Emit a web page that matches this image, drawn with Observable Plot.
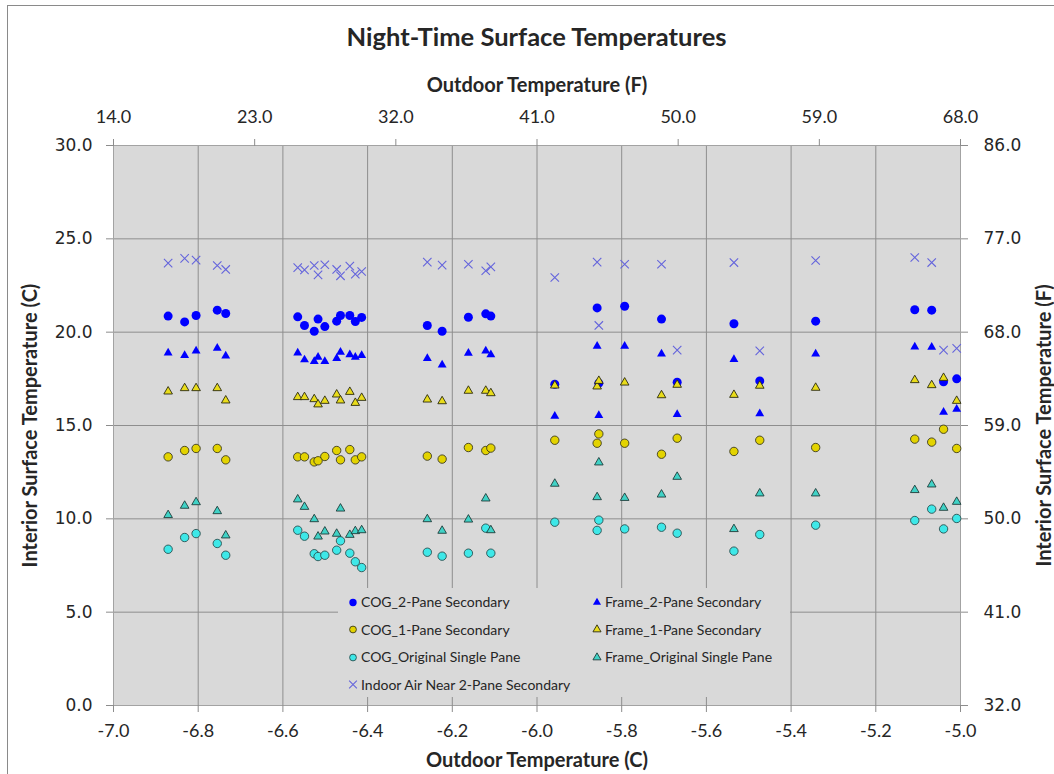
<!DOCTYPE html>
<html><head><meta charset="utf-8">
<script src="https://cdn.jsdelivr.net/npm/d3@7"></script>
<script src="https://cdn.jsdelivr.net/npm/@observablehq/plot@0.6"></script>
<style>
html,body{margin:0;padding:0;background:#fff;overflow:hidden;}
#wrap{position:relative;width:1054px;height:774px;font-family:Lato,"Open Sans",sans-serif;color:#262626;overflow:hidden;}
#border{position:absolute;left:7px;top:5px;width:1100px;height:800px;border:1px solid #8a8a8a;box-sizing:border-box;pointer-events:none;}
#title{position:absolute;left:19px;top:20px;width:1035px;text-align:center;font-weight:bold;font-size:25.5px;line-height:32px;}
#chart{position:absolute;left:0;top:60px;}
#legend{position:absolute;left:338px;top:588px;width:452px;height:109px;background:#d9d9d9;}
.li{position:absolute;height:20px;display:flex;align-items:center;font-size:14px;white-space:nowrap;}
.li svg{margin-right:2px;}
</style></head>
<body>
<div id="wrap">
  <div id="title">Night-Time Surface Temperatures</div>
  <div id="chart"></div>
  <div id="legend"></div>
  <div id="border"></div>
</div>
<script>
// ---- Data ----
const outdoorC = [-6.871, -6.832, -6.805, -6.755, -6.735,
  -6.565, -6.549, -6.526, -6.517, -6.501, -6.473, -6.464, -6.442, -6.429, -6.414,
  -6.259, -6.224, -6.162, -6.121, -6.109,
  -5.958, -5.858, -5.854, -5.793, -5.706, -5.669,
  -5.535, -5.474, -5.342, -5.108, -5.068, -5.040, -5.009];
const cog2Pane = [20.86, 20.55, 20.89, 21.18, 21.00,
  20.82, 20.36, 20.05, 20.70, 20.30, 20.59, 20.89, 20.89, 20.57, 20.79,
  20.36, 20.05, 20.80, 20.98, 20.86,
  17.21, 21.30, 17.27, 21.39, 20.70, 17.32,
  20.45, 17.39, 20.59, 21.20, 21.18, 17.34, 17.50];
const frame2Pane = [18.89, 18.75, 19.00, 19.14, 18.73,
  18.89, 18.52, 18.43, 18.66, 18.43, 18.59, 18.93, 18.80, 18.66, 18.75,
  18.59, 18.25, 18.88, 19.00, 18.80,
  15.50, 19.25, 15.54, 19.25, 18.84, 15.59,
  18.54, 15.63, 18.84, 19.21, 19.20, 15.71, 15.88];
const cog1Pane = [13.32, 13.66, 13.77, 13.77, 13.16,
  13.32, 13.32, 13.05, 13.11, 13.34, 13.66, 13.16, 13.71, 13.16, 13.32,
  13.36, 13.20, 13.82, 13.66, 13.79,
  14.21, 14.05, 14.55, 14.05, 13.46, 14.32,
  13.61, 14.21, 13.82, 14.27, 14.11, 14.80, 13.77];
const frame1Pane = [16.82, 17.00, 17.00, 17.00, 16.34,
  16.52, 16.52, 16.41, 16.13, 16.32, 16.66, 16.34, 16.80, 16.21, 16.48,
  16.39, 16.30, 16.86, 16.86, 16.73,
  17.14, 17.09, 17.39, 17.30, 16.62, 17.18,
  16.64, 17.13, 17.02, 17.43, 17.16, 17.55, 16.32];
const cogOrig = [8.37, 9.00, 9.21, 8.68, 8.05,
  9.39, 9.07, 8.13, 7.98, 8.05, 8.32, 8.82, 8.16, 7.70, 7.39,
  8.21, 8.00, 8.16, 9.50, 8.16,
  9.82, 9.38, 9.93, 9.46, 9.55, 9.23,
  8.27, 9.16, 9.66, 9.91, 10.52, 9.46, 10.02];
const frameOrig = [10.20, 10.70, 10.89, 10.41, 9.11,
  11.04, 10.64, 9.98, 9.05, 9.32, 9.20, 10.55, 9.14, 9.34, 9.39,
  9.98, 9.36, 9.96, 11.09, 9.39,
  11.88, 11.16, 13.02, 11.12, 11.30, 12.25,
  9.45, 11.36, 11.36, 11.54, 11.84, 10.59, 10.91];
const indoorAir = [23.70, 23.95, 23.86, 23.57, 23.36,
  23.46, 23.34, 23.57, 23.07, 23.61, 23.36, 23.02, 23.54, 23.11, 23.25,
  23.75, 23.59, 23.64, 23.29, 23.50,
  22.93, 23.75, 20.36, 23.64, 23.64, 19.04,
  23.73, 19.00, 23.84, 24.00, 23.73, 19.04, 19.13];

const seriesNames = ["COG_2-Pane Secondary", "Frame_2-Pane Secondary", "COG_1-Pane Secondary",
  "Frame_1-Pane Secondary", "COG_Original Single Pane", "Frame_Original Single Pane",
  "Indoor Air Near 2-Pane Secondary"];

const xTicksC = [-7.0, -6.8, -6.6, -6.4, -6.2, -6.0, -5.8, -5.6, -5.4, -5.2, -5.0];
const yTicksC = [0, 5, 10, 15, 20, 25, 30];
const xTicksF = [14, 23, 32, 41, 50, 59, 68];
const yTicksF = [32, 41, 50, 59, 68, 77, 86];

// ---- Styles ----
const styles = [
  {values: cog2Pane, symbol: "circle", r: 4.5, fill: "#0000ff", stroke: "none", sw: 0, ls: 3.7},
  {values: frame2Pane, symbol: "triangle", r: 3.3, fill: "#0000ff", stroke: "none", sw: 0, ls: 3.0},
  {values: cog1Pane, symbol: "circle", r: 4.2, fill: "#e3d300", stroke: "#3b3a20", sw: 0.9, ls: 3.4},
  {values: frame1Pane, symbol: "triangle", r: 3.2, fill: "#e9dc1a", stroke: "#2a2a10", sw: 0.9, ls: 3.0},
  {values: cogOrig, symbol: "circle", r: 4.2, fill: "#3ee8e8", stroke: "#2b4f4f", sw: 0.9, ls: 3.4},
  {values: frameOrig, symbol: "triangle", r: 3.2, fill: "#40d2c6", stroke: "#1f3c3a", sw: 0.9, ls: 3.0},
  {values: indoorAir, symbol: "times", r: 3.9, fill: "none", stroke: "#6464dc", sw: 1.1, ls: 3.6}
];

const xDom = [xTicksC[0], xTicksC[xTicksC.length - 1]];
const yDom = [yTicksC[0], yTicksC[yTicksC.length - 1]];
const fx0 = xTicksF[0], fx1 = xTicksF[xTicksF.length - 1];
const fy0 = yTicksF[0], fy1 = yTicksF[yTicksF.length - 1];
const fToX = f => xDom[0] + (f - fx0) / (fx1 - fx0) * (xDom[1] - xDom[0]);
const xToF = x => fx0 + (x - xDom[0]) / (xDom[1] - xDom[0]) * (fx1 - fx0);
const fToY = f => yDom[0] + (f - fy0) / (fy1 - fy0) * (yDom[1] - yDom[0]);
const yToF = y => fy0 + (y - yDom[0]) / (yDom[1] - yDom[0]) * (fy1 - fy0);

const txt = "#262626", tick = "#8c8c8c", grid = "#8e8e8e";

const dotMarks = styles.map(s => Plot.dot(outdoorC.map((x, i) => ({x, y: s.values[i]})), {
  x: "x", y: "y", symbol: s.symbol, r: s.r, fill: s.fill, stroke: s.stroke, strokeWidth: s.sw
}));

const titleOpts = {text: d => d, fontSize: 20, fontWeight: "bold", fill: txt, textAnchor: "middle", lineAnchor: "middle"};

const chart = Plot.plot({
  width: 1054,
  height: 714,
  marginLeft: 113,
  marginRight: 94,
  marginTop: 85,
  marginBottom: 69,
  style: {background: "transparent", fontFamily: "Lato, sans-serif", color: txt},
  x: {domain: xDom, axis: null},
  y: {domain: yDom, axis: null},
  marks: [
    Plot.frame({fill: "#d9d9d9", stroke: "none"}),
    Plot.ruleX(xTicksC.slice(1, -1), {stroke: grid, strokeWidth: 1}),
    Plot.ruleY(yTicksC.slice(1, -1), {stroke: grid, strokeWidth: 1}),
    Plot.frame({stroke: "#a3a3a3", strokeWidth: 1}),
    Plot.axisX({anchor: "bottom", label: null, ticks: xTicksC, tickFormat: d => d.toFixed(1), tickSize: 7, tickPadding: 12,
      fontSize: 18, fontFamily: "Lato", stroke: tick, fill: txt}),
    Plot.axisX({anchor: "top", label: null, ticks: xTicksF.map(fToX), tickFormat: d => xToF(d).toFixed(1), tickSize: 7, tickPadding: 16,
      fontSize: 18, fontFamily: "Lato", stroke: tick, fill: txt}),
    Plot.axisY({anchor: "left", label: null, ticks: yTicksC, tickFormat: d => d.toFixed(1), tickSize: 7, tickPadding: 14,
      fontSize: 17, fontFamily: "DejaVu Sans", stroke: tick, fill: txt}),
    Plot.axisY({anchor: "right", label: null, ticks: yTicksF.map(fToY), tickFormat: d => yToF(d).toFixed(1), tickSize: 7, tickPadding: 16,
      fontSize: 17, fontFamily: "DejaVu Sans", stroke: tick, fill: txt}),
    Plot.text(["Outdoor Temperature (F)"], {...titleOpts, frameAnchor: "top", dy: -60}),
    Plot.text(["Outdoor Temperature (C)"], {...titleOpts, frameAnchor: "bottom", dy: 55}),
    Plot.text(["Interior Surface Temperature (C)"], {...titleOpts, frameAnchor: "left", dx: -83, rotate: -90}),
    Plot.text(["Interior Surface Temperature (F)"], {...titleOpts, frameAnchor: "right", dx: 84, rotate: -90}),
    ...dotMarks
  ]
});
document.getElementById("chart").appendChild(chart);

// ---- Legend ----
const legend = d3.select("#legend");
const symMap = {circle: d3.symbolCircle, triangle: d3.symbolTriangle, times: d3.symbolTimes};
styles.forEach((s, i) => {
  const col = i % 2, row = Math.floor(i / 2);
  const item = legend.append("div").attr("class", "li")
    .style("left", (col === 0 ? 9 : 253) + "px")
    .style("top", (3.7 + row * 27.5) + "px");
  const svg = item.append("svg").attr("width", 12).attr("height", 20);
  svg.append("path")
    .attr("transform", "translate(6,10.5)")
    .attr("d", d3.symbol(symMap[s.symbol], Math.PI * s.ls * s.ls)())
    .attr("fill", s.fill).attr("stroke", s.stroke === "none" ? "none" : s.stroke)
    .attr("stroke-width", s.sw);
  item.append("span").text(seriesNames[i]);
});
</script>
</body></html>
